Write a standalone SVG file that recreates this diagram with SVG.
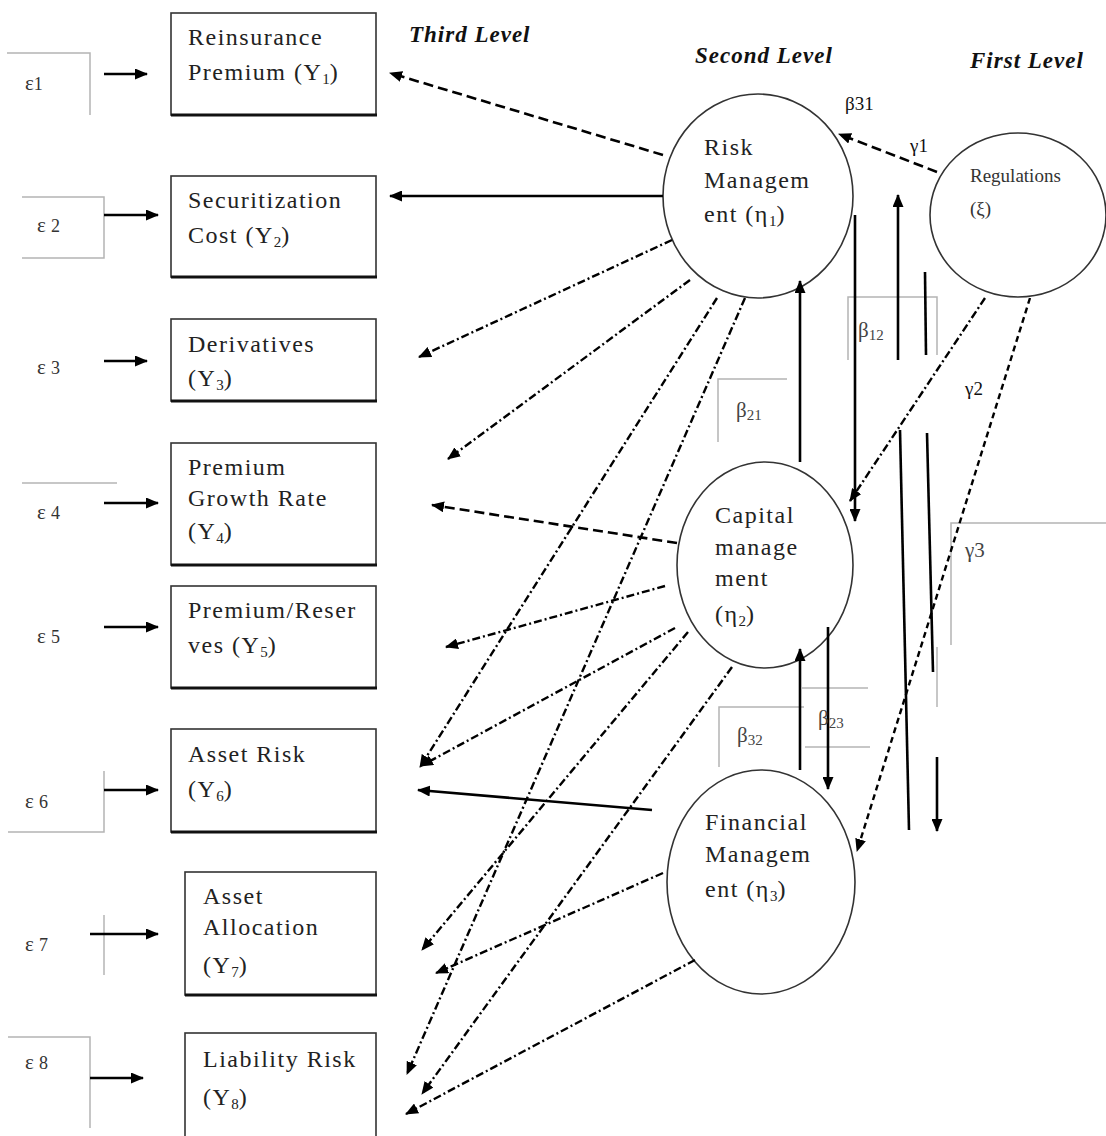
<svg xmlns="http://www.w3.org/2000/svg" width="1106" height="1136" viewBox="0 0 1106 1136">
  <defs>
    <marker id="arrow" markerUnits="userSpaceOnUse" markerWidth="13" markerHeight="11" refX="12" refY="5.5" orient="auto">
      <path d="M0,0 L13,5.5 L0,11 z" fill="#000"/>
    </marker>
    <style>
      .box { fill: #fff; stroke: #333; stroke-width: 1.6; }
      .boxbase { stroke: #111; stroke-width: 3; }
      .ell { fill: #fff; stroke: #333; stroke-width: 1.6; }
      .lbl { font-family: "Liberation Serif", "Times New Roman", serif; font-size: 24px; letter-spacing: 1.5px; fill: #222; }
      .sub { font-size: 15px; letter-spacing: 0; }
      .eps { font-family: "Liberation Serif", "Times New Roman", serif; font-size: 21px; fill: #333; }
      .epsn { font-size: 18px; }
      .lvl { font-family: "Liberation Serif", "Times New Roman", serif; font-size: 23px; font-style: italic; font-weight: bold; letter-spacing: 1px; fill: #111; }
      .coef { font-family: "Liberation Serif", "Times New Roman", serif; font-size: 21px; fill: #444; }
      .coefk { font-family: "Liberation Serif", "Times New Roman", serif; font-size: 19px; fill: #111; }
      .reg { font-family: "Liberation Serif", "Times New Roman", serif; font-size: 19px; fill: #333; }
      .frame { stroke: #b4b4b4; stroke-width: 1.5; fill: none; }
      .solid { stroke: #000; stroke-width: 2.6; fill: none; }
      .dash { stroke: #000; stroke-width: 2.6; fill: none; stroke-dasharray: 10 5; }
      .dashdot { stroke: #000; stroke-width: 2.4; fill: none; stroke-dasharray: 8 3 2 3; }
      .sdash { stroke: #000; stroke-width: 2.4; fill: none; stroke-dasharray: 6 4; }
    </style>
  </defs>

  <rect width="1106" height="1136" fill="#fff"/>

  <!-- level headings -->
  <g id="levels">
    <text class="lvl" x="409" y="42">Third Level</text>
    <text class="lvl" x="695" y="63">Second Level</text>
    <text class="lvl" x="970" y="68">First Level</text>
  </g>

  <!-- error terms with their partial frames -->
  <g id="eps1">
    <path class="frame" d="M7,53 H90 V115"/>
    <text class="eps" x="25" y="90">ε<tspan class="epsn">1</tspan></text>
  </g>
  <g id="eps2">
    <path class="frame" d="M22,197 H104 V258 H22"/>
    <text class="eps" x="37" y="232">ε <tspan class="epsn">2</tspan></text>
  </g>
  <g id="eps3">
    <text class="eps" x="37" y="374">ε <tspan class="epsn">3</tspan></text>
  </g>
  <g id="eps4">
    <path class="frame" d="M22,483 H117"/>
    <text class="eps" x="37" y="519">ε <tspan class="epsn">4</tspan></text>
  </g>
  <g id="eps5">
    <text class="eps" x="37" y="643">ε <tspan class="epsn">5</tspan></text>
  </g>
  <g id="eps6">
    <path class="frame" d="M104,771 V832 H8"/>
    <text class="eps" x="25" y="808">ε <tspan class="epsn">6</tspan></text>
  </g>
  <g id="eps7">
    <path class="frame" d="M104,915 V975"/>
    <text class="eps" x="25" y="951">ε <tspan class="epsn">7</tspan></text>
  </g>
  <g id="eps8">
    <path class="frame" d="M8,1037 H90 V1128"/>
    <text class="eps" x="25" y="1069">ε <tspan class="epsn">8</tspan></text>
  </g>

  <!-- observed indicators -->
  <g id="y1">
    <rect class="box" x="171" y="13" width="205" height="102"/>
    <line class="boxbase" x1="171" y1="115" x2="377" y2="115"/>
    <text class="lbl" x="188" y="45">Reinsurance</text>
    <text class="lbl" x="188" y="80">Premium (Y<tspan class="sub" dy="4">1</tspan><tspan dy="-4">)</tspan></text>
  </g>
  <g id="y2">
    <rect class="box" x="171" y="176" width="205" height="101"/>
    <line class="boxbase" x1="171" y1="277" x2="377" y2="277"/>
    <text class="lbl" x="188" y="208">Securitization</text>
    <text class="lbl" x="188" y="243">Cost (Y<tspan class="sub" dy="4">2</tspan><tspan dy="-4">)</tspan></text>
  </g>
  <g id="y3">
    <rect class="box" x="171" y="319" width="205" height="82"/>
    <line class="boxbase" x1="171" y1="401" x2="377" y2="401"/>
    <text class="lbl" x="188" y="352">Derivatives</text>
    <text class="lbl" x="188" y="386">(Y<tspan class="sub" dy="4">3</tspan><tspan dy="-4">)</tspan></text>
  </g>
  <g id="y4">
    <rect class="box" x="171" y="443" width="205" height="122"/>
    <line class="boxbase" x1="171" y1="565" x2="377" y2="565"/>
    <text class="lbl" x="188" y="475">Premium</text>
    <text class="lbl" x="188" y="506">Growth Rate</text>
    <text class="lbl" x="188" y="539">(Y<tspan class="sub" dy="4">4</tspan><tspan dy="-4">)</tspan></text>
  </g>
  <g id="y5">
    <rect class="box" x="171" y="586" width="205" height="102"/>
    <line class="boxbase" x1="171" y1="688" x2="377" y2="688"/>
    <text class="lbl" x="188" y="618">Premium/Reser</text>
    <text class="lbl" x="188" y="653">ves (Y<tspan class="sub" dy="4">5</tspan><tspan dy="-4">)</tspan></text>
  </g>
  <g id="y6">
    <rect class="box" x="171" y="729" width="205" height="103"/>
    <line class="boxbase" x1="171" y1="832" x2="377" y2="832"/>
    <text class="lbl" x="188" y="762">Asset Risk</text>
    <text class="lbl" x="188" y="797">(Y<tspan class="sub" dy="4">6</tspan><tspan dy="-4">)</tspan></text>
  </g>
  <g id="y7">
    <rect class="box" x="185" y="872" width="191" height="123"/>
    <line class="boxbase" x1="185" y1="995" x2="377" y2="995"/>
    <text class="lbl" x="203" y="904">Asset</text>
    <text class="lbl" x="203" y="935">Allocation</text>
    <text class="lbl" x="203" y="973">(Y<tspan class="sub" dy="4">7</tspan><tspan dy="-4">)</tspan></text>
  </g>
  <g id="y8">
    <rect class="box" x="185" y="1033" width="191" height="104"/>
    <text class="lbl" x="203" y="1067">Liability Risk</text>
    <text class="lbl" x="203" y="1105">(Y<tspan class="sub" dy="4">8</tspan><tspan dy="-4">)</tspan></text>
  </g>

  <!-- coefficient label frames -->
  <g id="coef-frames">
    <path class="frame" d="M718,442 V379 H787"/>
    <path class="frame" d="M848,360 V297 H937 V355"/>
    <path class="frame" d="M719,767 V707 H804"/>
    <path class="frame" d="M802,688 H868"/>
    <path class="frame" d="M805,747 H870"/>
    <path class="frame" d="M951,645 V523 H1106"/>
    <path class="frame" d="M937,647 V707"/>
  </g>

  <!-- latent constructs -->
  <g id="risk-management">
    <ellipse class="ell" cx="758" cy="196" rx="95" ry="102"/>
    <text class="lbl" x="704" y="155">Risk</text>
    <text class="lbl" x="704" y="188">Managem</text>
    <text class="lbl" x="704" y="222">ent (η<tspan class="sub" dy="4">1</tspan><tspan dy="-4">)</tspan></text>
  </g>
  <g id="capital-management">
    <ellipse class="ell" cx="765" cy="565" rx="88" ry="103"/>
    <text class="lbl" x="715" y="523">Capital</text>
    <text class="lbl" x="715" y="555">manage</text>
    <text class="lbl" x="715" y="586">ment</text>
    <text class="lbl" x="715" y="622">(η<tspan class="sub" dy="4">2</tspan><tspan dy="-4">)</tspan></text>
  </g>
  <g id="financial-management">
    <ellipse class="ell" cx="761" cy="882" rx="94" ry="112"/>
    <text class="lbl" x="705" y="830">Financial</text>
    <text class="lbl" x="705" y="862">Managem</text>
    <text class="lbl" x="705" y="897">ent (η<tspan class="sub" dy="4">3</tspan><tspan dy="-4">)</tspan></text>
  </g>
  <g id="regulations">
    <ellipse class="ell" cx="1018" cy="215" rx="88" ry="82"/>
    <text class="reg" x="970" y="182">Regulations</text>
    <text class="reg" x="970" y="215">(ξ)</text>
  </g>

  <!-- connectors -->
  <g id="connectors">
    <!-- error terms into indicators -->
    <line class="solid" x1="104" y1="74" x2="147" y2="74" marker-end="url(#arrow)"/>
    <line class="solid" x1="104" y1="215" x2="158" y2="215" marker-end="url(#arrow)"/>
    <line class="solid" x1="104" y1="361" x2="147" y2="361" marker-end="url(#arrow)"/>
    <line class="solid" x1="104" y1="503" x2="158" y2="503" marker-end="url(#arrow)"/>
    <line class="solid" x1="104" y1="627" x2="158" y2="627" marker-end="url(#arrow)"/>
    <line class="solid" x1="104" y1="790" x2="158" y2="790" marker-end="url(#arrow)"/>
    <line class="solid" x1="90" y1="934" x2="158" y2="934" marker-end="url(#arrow)"/>
    <line class="solid" x1="90" y1="1078" x2="143" y2="1078" marker-end="url(#arrow)"/>

    <!-- risk management to indicators -->
    <line class="dash" x1="663" y1="155" x2="390" y2="73" marker-end="url(#arrow)"/>
    <line class="solid" x1="663" y1="196" x2="390" y2="196" marker-end="url(#arrow)"/>
    <line class="dashdot" x1="672" y1="240" x2="419" y2="357" marker-end="url(#arrow)"/>
    <line class="dashdot" x1="690" y1="280" x2="448" y2="459" marker-end="url(#arrow)"/>
    <line class="dashdot" x1="717" y1="298" x2="420" y2="767" marker-end="url(#arrow)"/>
    <line class="dashdot" x1="745" y1="298" x2="407" y2="1074" marker-end="url(#arrow)"/>

    <!-- capital management to indicators -->
    <line class="dash" x1="677" y1="543" x2="432" y2="505" marker-end="url(#arrow)"/>
    <line class="dashdot" x1="665" y1="586" x2="446" y2="647" marker-end="url(#arrow)"/>
    <line class="dashdot" x1="675" y1="628" x2="421" y2="766" marker-end="url(#arrow)"/>
    <line class="dashdot" x1="688" y1="632" x2="422" y2="950" marker-end="url(#arrow)"/>
    <line class="dashdot" x1="732" y1="667" x2="422" y2="1094" marker-end="url(#arrow)"/>

    <!-- financial management to indicators -->
    <line class="solid" x1="652" y1="810" x2="418" y2="790" marker-end="url(#arrow)"/>
    <line class="dashdot" x1="663" y1="873" x2="436" y2="973" marker-end="url(#arrow)"/>
    <line class="dashdot" x1="695" y1="960" x2="406" y2="1114" marker-end="url(#arrow)"/>

    <!-- structural paths between constructs -->
    <line class="solid" x1="855" y1="215" x2="855" y2="521" marker-end="url(#arrow)"/>
    <line class="solid" x1="800" y1="462" x2="800" y2="281" marker-end="url(#arrow)"/>
    <line class="solid" x1="828" y1="627" x2="828" y2="789" marker-end="url(#arrow)"/>
    <line class="solid" x1="800" y1="770" x2="800" y2="649" marker-end="url(#arrow)"/>
    <line class="solid" x1="909" y1="830" x2="900" y2="430"/>
    <line class="solid" x1="898" y1="360" x2="898" y2="195" marker-end="url(#arrow)"/>
    <line class="solid" x1="925" y1="272" x2="926" y2="355"/>
    <line class="solid" x1="927" y1="433" x2="933" y2="672"/>
    <line class="solid" x1="937" y1="757" x2="937" y2="831" marker-end="url(#arrow)"/>

    <!-- regulations to constructs -->
    <line class="dash" x1="937" y1="172" x2="839" y2="134" marker-end="url(#arrow)"/>
    <line class="dashdot" x1="985" y1="298" x2="850" y2="501" marker-end="url(#arrow)"/>
    <line class="sdash" x1="1030" y1="298" x2="857" y2="851" marker-end="url(#arrow)"/>
  </g>

  <!-- path coefficients -->
  <g id="coefficients">
    <text class="coefk" x="845" y="110" font-size="17">β31</text>
    <text class="coefk" x="910" y="152">γ1</text>
    <text class="coef" x="858" y="337">β<tspan class="sub" dy="3">12</tspan></text>
    <text class="coef" x="736" y="417">β<tspan class="sub" dy="3">21</tspan></text>
    <text class="coefk" x="965" y="395">γ2</text>
    <text class="coef" x="965" y="557">γ3</text>
    <text class="coef" x="737" y="742">β<tspan class="sub" dy="3">32</tspan></text>
    <text class="coef" x="818" y="725">β<tspan class="sub" dy="3">23</tspan></text>
  </g>
</svg>
